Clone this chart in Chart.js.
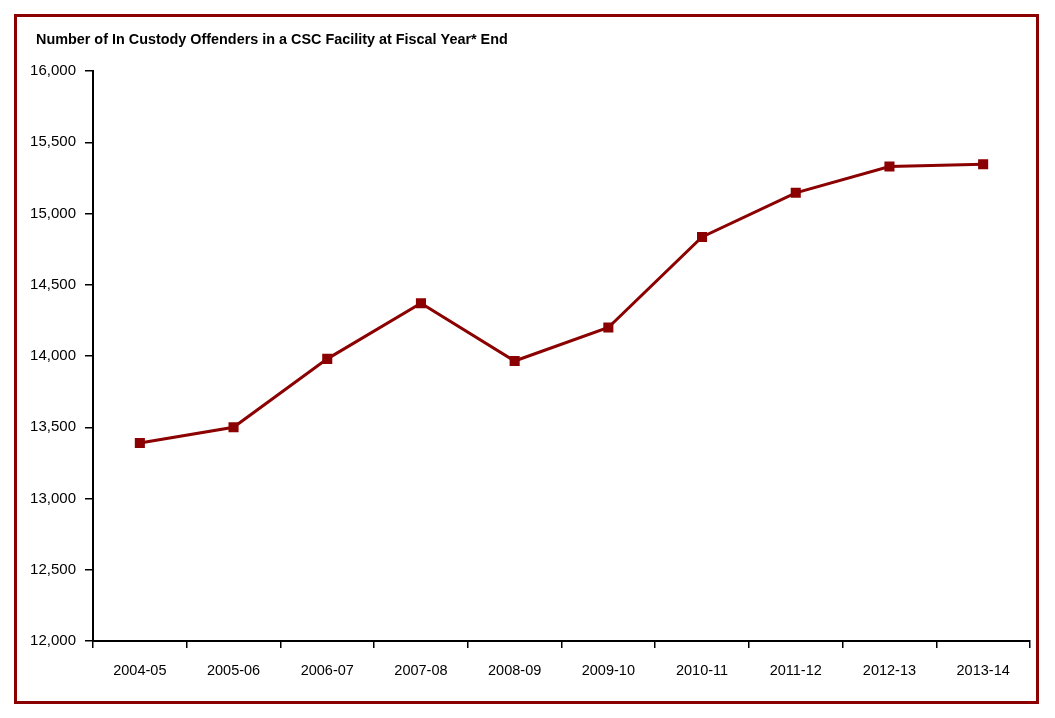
<!DOCTYPE html>
<html>
<head>
<meta charset="utf-8">
<script src="https://cdn.jsdelivr.net/npm/chart.js@4"></script>
<style>
  body { margin: 0; background: #fff; }
  #wrap { position: relative; width: 1055px; height: 718px; }
  #frame {
    position: absolute; left: 14px; top: 14px; width: 1019px; height: 684px;
    border: 3px solid #8b0000; pointer-events: none;
  }
  canvas { position: absolute; left: 0; top: 0; }
</style>
</head>
<body>
<div id="wrap">
  <canvas id="chart" width="1055" height="718"></canvas>
  <div id="frame"></div>
</div>
<script>
const fontFamily = "'Liberation Sans Narrow', 'Arial Narrow', 'Liberation Sans', Arial, sans-serif";

const titleText = "Number of In Custody Offenders in a CSC Facility at Fiscal Year* End";
const years = ["2004-05", "2005-06", "2006-07", "2007-08", "2008-09", "2009-10", "2010-11", "2011-12", "2012-13", "2013-14"];
const offenders = [13390, 13500, 13980, 14370, 13965, 14200, 14835, 15145, 15330, 15345];
const yTicks = [12000, 12500, 13000, 13500, 14000, 14500, 15000, 15500, 16000];

// title drawn at top left inside the frame
const titlePlugin = {
  id: "titlePlugin",
  afterDraw(chart) {
    const ctx = chart.ctx;
    ctx.save();
    ctx.font = "bold 14.4px " + fontFamily;
    ctx.fillStyle = "#000";
    ctx.textBaseline = "middle";
    ctx.fillText(titleText, 36, 40);
    ctx.restore();
  },
};

new Chart(document.getElementById("chart"), {
  type: "line",
  data: {
    labels: years,
    datasets: [
      {
        data: offenders,
        borderColor: "#8b0000",
        backgroundColor: "#8b0000",
        borderWidth: 3,
        pointStyle: "rect",
        pointRadius: 5,
        pointHoverRadius: 5,
        tension: 0,
      },
    ],
  },
  options: {
    responsive: false,
    devicePixelRatio: 1,
    animation: false,
    layout: {
      padding: { left: 20, right: 25, top: 71, bottom: 27 },
    },
    scales: {
      x: {
        offset: true,
        grid: {
          offset: true,
          drawOnChartArea: false,
          tickLength: 7,
          color: "#000",
          lineWidth: 1.5,
        },
        border: { color: "#000", width: 2 },
        ticks: {
          color: "#000",
          font: { size: 14.5, family: fontFamily },
          padding: 14,
          maxRotation: 0,
        },
        afterFit: (scale) => {
          scale.height = 50;
        },
      },
      y: {
        min: 12000,
        max: 16000,
        afterBuildTicks: (scale) => {
          scale.ticks = yTicks.map((v) => ({ value: v }));
        },
        grid: {
          drawOnChartArea: false,
          tickLength: 8,
          color: "#000",
          lineWidth: 1.5,
        },
        border: { color: "#000", width: 2 },
        ticks: {
          color: "#000",
          font: { size: 15, family: fontFamily },
          padding: 9,
          callback: (v) => v.toLocaleString("en-US"),
        },
        afterFit: (scale) => {
          scale.width = 73;
        },
      },
    },
    plugins: {
      legend: { display: false },
      tooltip: { enabled: false },
    },
  },
  plugins: [titlePlugin],
});
</script>
</body>
</html>
